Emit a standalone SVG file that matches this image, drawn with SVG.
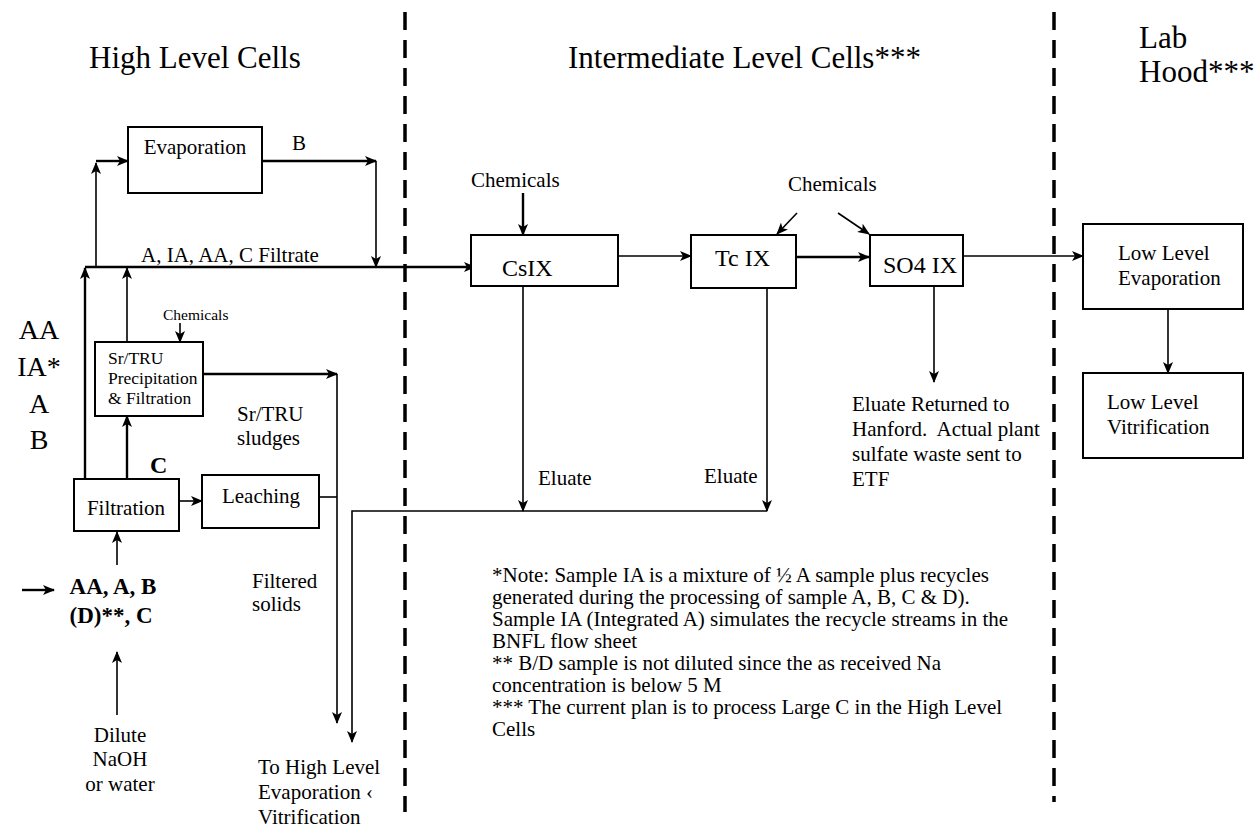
<svg xmlns="http://www.w3.org/2000/svg" width="1256" height="831" viewBox="0 0 1256 831">
<defs>
<marker id="ah" viewBox="0 0 12 10" refX="11" refY="5" markerWidth="12" markerHeight="10" markerUnits="userSpaceOnUse" orient="auto">
<path d="M0,0 L12,5 L0,10 L3,5 z" fill="#000"/>
</marker>
<style>
.c{fill:none;stroke:#000;stroke-width:1.6}
.t{fill:none;stroke:#000;stroke-width:2.4}
.a{marker-end:url(#ah)}
.box{fill:#fff;stroke:#000;stroke-width:2}
.dash{stroke:#000;stroke-width:3.5;stroke-dasharray:18,10;fill:none}
.title{font-size:31px}
.lbl{font-size:21px}
.box-t{font-size:24px}
.note{font-size:21px}
</style>
</defs>
<rect width="1256" height="831" fill="#fff"/>

<g id="dividers">
<line class="dash" x1="405" y1="12" x2="405" y2="812"/>
<line class="dash" x1="1054" y1="12" x2="1054" y2="802"/>
</g>

<g id="connectors">
<path class="t a" d="M85,479 V268"/>
<path class="c a" d="M127,342 V268"/>
<path class="t a" d="M85,267 H475"/>
<path class="c a" d="M96,267 V163"/>
<path class="t a" d="M96,161 H128"/>
<path class="t a" d="M262,161 H376"/>
<path class="c a" d="M376,161 V267"/>
<path class="c a" d="M180,323 V342"/>
<path class="t a" d="M127,479 V416"/>
<path class="c a" d="M179,501 H202"/>
<path class="t a" d="M203,374 H337"/>
<path class="c a" d="M337,374 V723"/>
<path class="c" d="M319,497 H337"/>
<path class="c a" d="M767,511 H352 V742"/>
<path class="c a" d="M523,286 V511"/>
<path class="c a" d="M767,288 V511"/>
<path class="t a" d="M523,193 V235"/>
<path class="c a" d="M618,256 H691"/>
<path class="c a" d="M797,213 L777,234"/>
<path class="c a" d="M838,213 L869,234"/>
<path class="t a" d="M796,257 H869"/>
<path class="c a" d="M963,256 H1083"/>
<path class="c a" d="M934,286 V382"/>
<path class="c a" d="M1168,309 V373"/>
<path class="t a" d="M22,590 H54"/>
<path class="c a" d="M117,565 V532"/>
<path class="c a" d="M117,715 V652"/>
</g>

<g font-family="'Liberation Serif', 'Times New Roman', serif" fill="#000">
<g id="titles">
<text class="title" x="89" y="68">High Level Cells</text>
<text class="title" x="568" y="68">Intermediate Level Cells***</text>
<text class="title" x="1139" y="48">Lab</text>
<text class="title" x="1139" y="82">Hood***</text>
</g>

<g id="evaporation">
<rect class="box" x="128" y="127" width="134" height="66"/>
<text class="lbl" x="195" y="154" text-anchor="middle">Evaporation</text>
</g>
<g id="label-b"><text class="lbl" x="292" y="150">B</text></g>
<g id="label-filtrate"><text class="lbl" x="141" y="262">A, IA, AA, C Filtrate</text></g>

<g id="srtru">
<rect class="box" x="95" y="342" width="108" height="74"/>
<text x="108" y="364" font-size="17.5">Sr/TRU</text>
<text x="108" y="384" font-size="17.5">Precipitation</text>
<text x="108" y="404" font-size="17.5">&amp; Filtration</text>
</g>
<g id="chem-small"><text x="163" y="320" font-size="15.5">Chemicals</text></g>

<g id="filtration">
<rect class="box" x="74" y="479" width="105" height="52"/>
<text class="lbl" x="126" y="515" text-anchor="middle">Filtration</text>
</g>
<g id="label-c"><text x="150" y="473" font-size="24" font-weight="bold">C</text></g>

<g id="leaching">
<rect class="box" x="202" y="475" width="117" height="53"/>
<text class="lbl" x="261" y="503" text-anchor="middle">Leaching</text>
</g>

<g id="left-labels">
<text x="39" y="339" font-size="28" text-anchor="middle">AA</text>
<text x="39" y="376" font-size="28" text-anchor="middle">IA*</text>
<text x="39" y="413" font-size="28" text-anchor="middle">A</text>
<text x="39" y="449" font-size="28" text-anchor="middle">B</text>
</g>

<g id="feed">
<text x="113" y="594" font-size="23" font-weight="bold" text-anchor="middle">AA, A, B</text>
<text x="111" y="623" font-size="23" font-weight="bold" text-anchor="middle">(D)**, C</text>
</g>

<g id="dilute">
<text class="lbl" x="120" y="742" text-anchor="middle">Dilute</text>
<text class="lbl" x="120" y="766" text-anchor="middle">NaOH</text>
<text class="lbl" x="120" y="791" text-anchor="middle">or water</text>
</g>

<g id="sludges">
<text class="lbl" x="237" y="421">Sr/TRU</text>
<text class="lbl" x="237" y="445">sludges</text>
</g>

<g id="filtered-solids">
<text class="lbl" x="252" y="588">Filtered</text>
<text class="lbl" x="252" y="611">solids</text>
</g>

<g id="to-high-level">
<text class="lbl" x="258" y="774">To High Level</text>
<text class="lbl" x="258" y="799">Evaporation ‹</text>
<text class="lbl" x="258" y="824">Vitrification</text>
</g>

<g id="chem-cs"><text class="lbl" x="471" y="187">Chemicals</text></g>
<g id="csix">
<rect class="box" x="471" y="235" width="147" height="51"/>
<text class="box-t" x="502" y="276">CsIX</text>
</g>

<g id="tcix">
<rect class="box" x="691" y="235" width="105" height="53"/>
<text class="box-t" x="715" y="266">Tc IX</text>
</g>
<g id="chem-tc"><text class="lbl" x="788" y="191">Chemicals</text></g>

<g id="so4ix">
<rect class="box" x="870" y="235" width="93" height="51"/>
<text class="box-t" x="883" y="273">SO4 IX</text>
</g>

<g id="eluate-labels">
<text class="lbl" x="538" y="485">Eluate</text>
<text class="lbl" x="704" y="483">Eluate</text>
</g>

<g id="eluate-returned">
<text class="lbl" x="852" y="411">Eluate Returned to</text>
<text class="lbl" x="852" y="436" xml:space="preserve">Hanford.  Actual plant</text>
<text class="lbl" x="852" y="461">sulfate waste sent to</text>
<text class="lbl" x="852" y="486">ETF</text>
</g>

<g id="low-level-evaporation">
<rect class="box" x="1083" y="224" width="160" height="85"/>
<text class="lbl" x="1118" y="260">Low Level</text>
<text class="lbl" x="1118" y="285">Evaporation</text>
</g>

<g id="low-level-vitrification">
<rect class="box" x="1083" y="373" width="160" height="85"/>
<text class="lbl" x="1107" y="409">Low Level</text>
<text class="lbl" x="1107" y="434">Vitrification</text>
</g>

<g id="notes">
<text class="note" x="492" y="582">*Note: Sample IA is a mixture of ½ A sample plus recycles</text>
<text class="note" x="492" y="604">generated during the processing of sample A, B, C &amp; D).</text>
<text class="note" x="492" y="626">Sample IA (Integrated A) simulates the recycle streams in the</text>
<text class="note" x="492" y="648">BNFL flow sheet</text>
<text class="note" x="492" y="670">** B/D sample is not diluted since the as received Na</text>
<text class="note" x="492" y="692">concentration is below 5 M</text>
<text class="note" x="492" y="714">*** The current plan is to process Large C in the High Level</text>
<text class="note" x="492" y="736">Cells</text>
</g>
</g>
</svg>
